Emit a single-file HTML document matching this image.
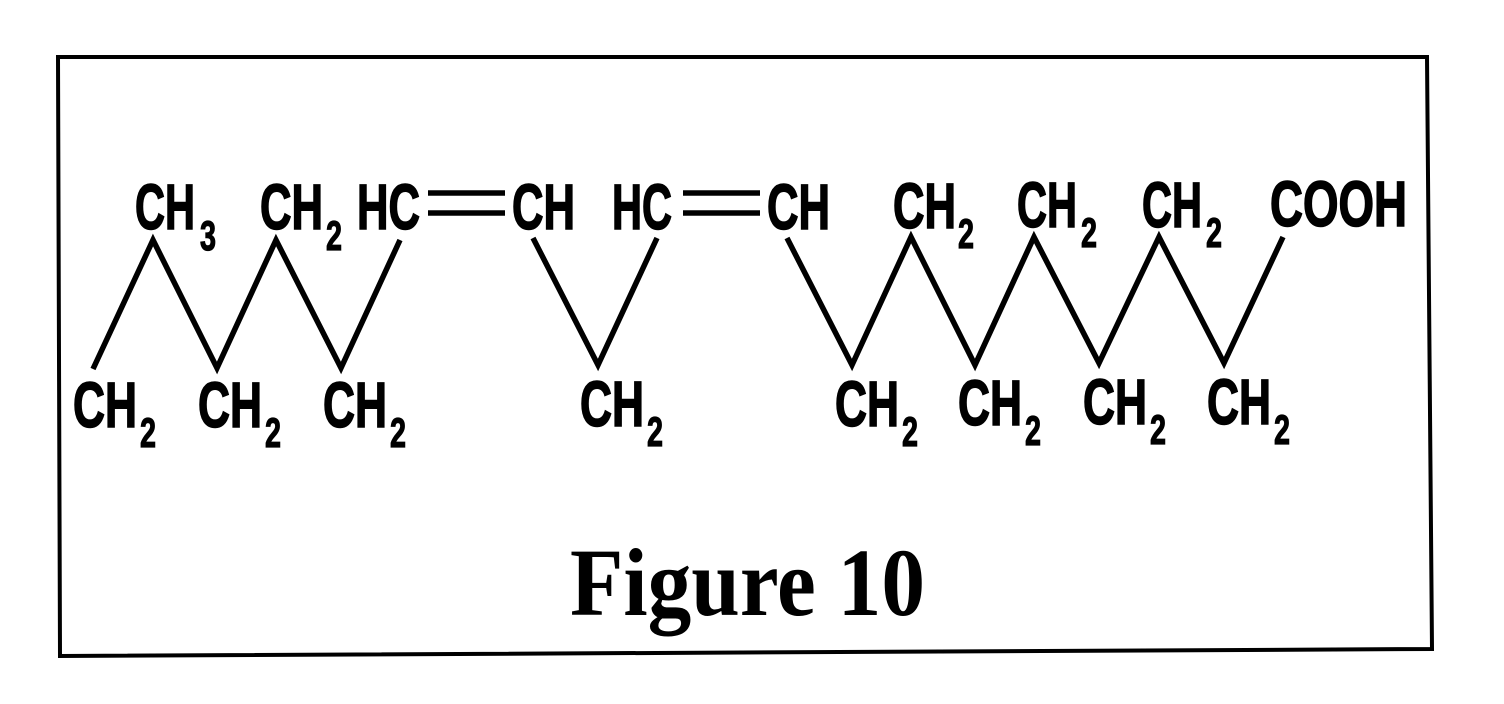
<!DOCTYPE html>
<html><head><meta charset="utf-8"><style>
html,body{margin:0;padding:0;background:#fff;width:1504px;height:704px;overflow:hidden}
svg{display:block}
.m{font-family:"Liberation Sans",Arial,sans-serif;font-weight:bold;font-size:64px;fill:#000;stroke:#000;stroke-width:1.6px}
.s{font-family:"Liberation Sans",Arial,sans-serif;font-weight:bold;font-size:42px;fill:#000;stroke:#000;stroke-width:1.2px}
</style></head><body>
<svg width="1504" height="704" viewBox="0 0 1504 704" xmlns="http://www.w3.org/2000/svg">
<rect width="1504" height="704" fill="#fff"/>
<polygon points="58,57 1427,57 1432,649 60,656" fill="none" stroke="#000" stroke-width="4"/>
<g fill="none" stroke="#000" stroke-width="5.5" stroke-linejoin="miter">
<polyline points="93,369 153,240 217,368 276,240 341,368 400,240"/>
<polyline points="533,238 598,365 657,238"/>
<polyline points="787,238 852,365 911,237 975,365 1034,237 1099,363 1159,237 1224,363 1283,237"/>
<line x1="428" y1="193" x2="505" y2="193"/>
<line x1="428" y1="213" x2="505" y2="213"/>
<line x1="683" y1="193" x2="760" y2="193"/>
<line x1="683" y1="213" x2="760" y2="213"/>
</g>
<text class="m" x="135" y="229" textLength="60" lengthAdjust="spacingAndGlyphs">CH</text>
<text class="s" x="200" y="250" textLength="16" lengthAdjust="spacingAndGlyphs">3</text>
<text class="m" x="260" y="229" textLength="63" lengthAdjust="spacingAndGlyphs">CH</text>
<text class="s" x="326" y="250" textLength="16" lengthAdjust="spacingAndGlyphs">2</text>
<text class="m" x="357" y="229" textLength="63" lengthAdjust="spacingAndGlyphs">HC</text>
<text class="m" x="512" y="229" textLength="63" lengthAdjust="spacingAndGlyphs">CH</text>
<text class="m" x="612" y="229" textLength="60" lengthAdjust="spacingAndGlyphs">HC</text>
<text class="m" x="767" y="229" textLength="63" lengthAdjust="spacingAndGlyphs">CH</text>
<text class="m" x="893" y="228" textLength="63" lengthAdjust="spacingAndGlyphs">CH</text>
<text class="s" x="958" y="248" textLength="16" lengthAdjust="spacingAndGlyphs">2</text>
<text class="m" x="1017" y="227" textLength="60" lengthAdjust="spacingAndGlyphs">CH</text>
<text class="s" x="1081" y="247" textLength="16" lengthAdjust="spacingAndGlyphs">2</text>
<text class="m" x="1142" y="227" textLength="60" lengthAdjust="spacingAndGlyphs">CH</text>
<text class="s" x="1206" y="247" textLength="16" lengthAdjust="spacingAndGlyphs">2</text>
<text class="m" x="1270" y="226" textLength="137" lengthAdjust="spacingAndGlyphs">COOH</text>
<text class="m" x="73" y="427" textLength="64" lengthAdjust="spacingAndGlyphs">CH</text>
<text class="s" x="140" y="447" textLength="16" lengthAdjust="spacingAndGlyphs">2</text>
<text class="m" x="198" y="427" textLength="64" lengthAdjust="spacingAndGlyphs">CH</text>
<text class="s" x="265" y="447" textLength="16" lengthAdjust="spacingAndGlyphs">2</text>
<text class="m" x="323" y="427" textLength="64" lengthAdjust="spacingAndGlyphs">CH</text>
<text class="s" x="390" y="447" textLength="16" lengthAdjust="spacingAndGlyphs">2</text>
<text class="m" x="580" y="426" textLength="64" lengthAdjust="spacingAndGlyphs">CH</text>
<text class="s" x="647" y="446" textLength="16" lengthAdjust="spacingAndGlyphs">2</text>
<text class="m" x="835" y="426" textLength="64" lengthAdjust="spacingAndGlyphs">CH</text>
<text class="s" x="902" y="446" textLength="16" lengthAdjust="spacingAndGlyphs">2</text>
<text class="m" x="958" y="425" textLength="64" lengthAdjust="spacingAndGlyphs">CH</text>
<text class="s" x="1025" y="445" textLength="16" lengthAdjust="spacingAndGlyphs">2</text>
<text class="m" x="1083" y="424" textLength="64" lengthAdjust="spacingAndGlyphs">CH</text>
<text class="s" x="1150" y="444" textLength="16" lengthAdjust="spacingAndGlyphs">2</text>
<text class="m" x="1207" y="424" textLength="64" lengthAdjust="spacingAndGlyphs">CH</text>
<text class="s" x="1274" y="444" textLength="16" lengthAdjust="spacingAndGlyphs">2</text>
<text x="570" y="615" font-family="'Liberation Serif','Times New Roman',serif" font-weight="bold" font-size="96" textLength="355" lengthAdjust="spacingAndGlyphs" fill="#000">Figure 10</text>
</svg>
</body></html>
